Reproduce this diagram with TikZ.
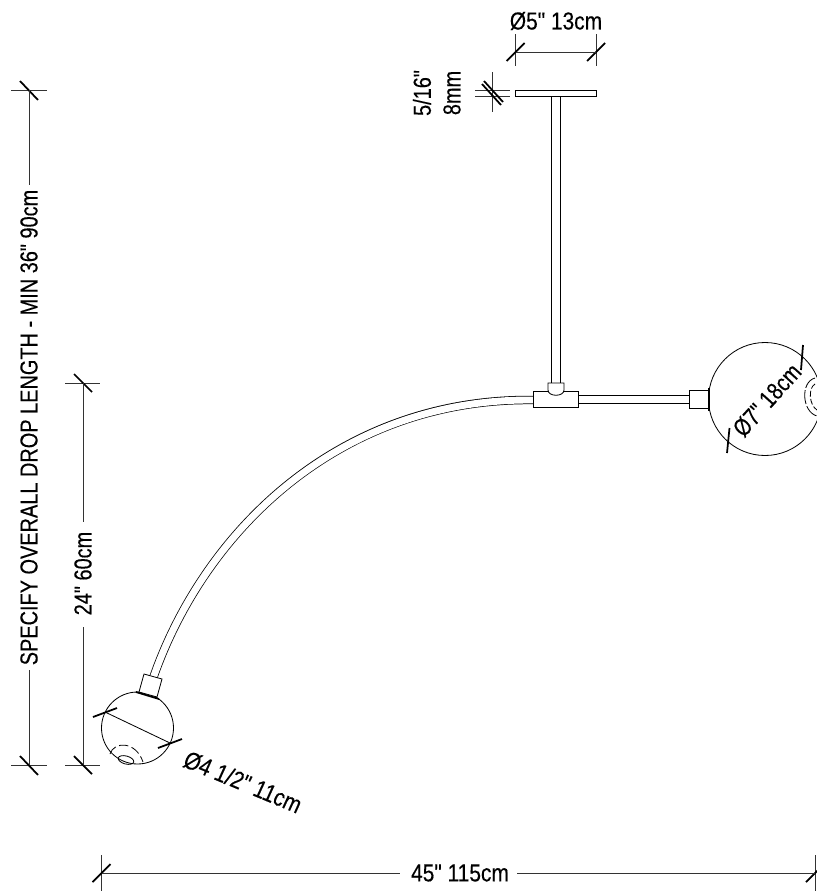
\documentclass[tikz,border=0pt]{standalone}
\usepackage{fontspec}
\newfontfamily\dimfont[FakeStretch=0.81,FakeBold=0.25]{Liberation Sans}
\begin{document}
\begin{tikzpicture}[x=.03cm, y=-.03cm,
    dimline/.style = {black!80, line width = .6pt},
    slash/.style = {black, line width = 1.5pt},
    part/.style = {black, line width = .7pt},
    label/.style = {inner sep = 0pt, font = \dimfont\fontsize{21}{22}\selectfont},
    shortlabel/.style = {label, xscale = 1.05}]

            \useasboundingbox (0,0) rectangle (817,891);

            % lamp body
            \draw [part, fill = white] (515.5,90) rectangle (596,96);
            \draw [part] (551.5,96) -- (551.5,384);
            \draw [part] (560,96) -- (560,384);
            \draw [black, line width = 7.2pt] (533,400) .. controls (340,398) and (205,530) .. (153.5,677);
            \draw [white, line width = 5.9pt] (534,400) .. controls (340,398) and (205,530) .. (153.5,677);
            \draw [part, fill = white] (578,395) rectangle (690,403);
            \draw [part, fill = white] (533.5,391) rectangle (578,407);
            \draw [part, fill = white] (548,383) -- (564,383) -- (564,390) .. controls (564,397) and (548,397) .. (548,390) -- cycle;
            \draw [part, fill = white] (689.5,390.5) rectangle (709,408);
            \draw [part] (765,399) circle (56.5);
            \draw [slash] (709,388) -- (709,411);
            \draw [part, dash pattern = on 12pt off 2pt] (815,378) .. controls (800,382) and (802,412) .. (817,416);
            \draw [part, dash pattern = on 5pt off 2pt] (815,384) .. controls (808,388) and (809,405) .. (817,410);

            % small globe
            \draw [part] (137.5,728) circle (36);
            \draw [part, fill = white] (144,674) -- (162,679) -- (157,697) -- (139,692) -- cycle;
            \draw [slash] (136,692) -- (159,699);
            \draw [part, rotate around = {-15:(126,760)}] (126,760) ellipse (8 and 4);
            \draw [part, dash pattern = on 8pt off 3pt] (110,754) .. controls (114,741) and (136,741) .. (143,762);

            % top dimensions
            \foreach \x in {515.5,596} {
              \draw [dimline] (\x,34) -- (\x,66);
              \draw [slash] (\x-9,61) -- (\x+9,43);
            }
            \draw [dimline] (515.5,52) -- (596,52);
            \node [shortlabel] (plate) at (556,21) {Ø5" 13cm};
            \foreach \y in {90,96} {
              \draw [dimline] (475,\y) -- (510,\y);
            }
            \draw [dimline] (492.5,72) -- (492.5,112);
            \draw [slash] (484,81) -- (503,102);
            \draw [slash] (482,84) -- (501,105);
            \node [label, rotate = 90] (thickin) at (422,93) {5/16"};
            \node [label, rotate = 90] (thickmm) at (452,93) {8mm};

            % overall drop
            \foreach \y in {90,765} {
              \draw [dimline] (11,\y) -- (47,\y);
              \draw [slash] (20,\y-9) -- (38,\y+10);
            }
            \node [label, rotate = 90] (drop) at (29,427.5) {SPECIFY OVERALL DROP LENGTH - MIN 36" 90cm};
            \draw [dimline] (29,90) -- (29,185);
            \draw [dimline] (29,670) -- (29,765);

            % globe drop
            \foreach \y in {383,765} {
              \draw [dimline] (65,\y) -- (100,\y);
              \draw [slash] (74,\y-9) -- (92,\y+9);
            }
            \node [label, rotate = 90] (globedrop) at (83,573.5) {24" 60cm};
            \draw [dimline] (83,383) -- (83,522);
            \draw [dimline] (83,627) -- (83,765);

            % span
            \foreach \x in {101.5,815} {
              \draw [dimline] (\x,855) -- (\x,891);
              \draw [slash] (\x-9,882) -- (\x+9,864);
            }
            \node [shortlabel] (span) at (460,873) {45" 115cm};
            \draw [dimline] (101.5,873) -- (400,873);
            \draw [dimline] (517,873) -- (815,873);

            % globe diameters
            \draw [slash] (727,453) -- (729.5,428);
            \draw [slash] (803,345) -- (801,370);
            \node [label, rotate = 48] (bigglobe) at (767,400) {Ø7" 18cm};
            \draw [slash] (93,717) -- (117,708);
            \draw [slash] (158,748) -- (182,739);
            \draw [part] (105,712) -- (170,743);
            \node [shortlabel, rotate = -23.5] (smallglobe) at (243,782) {Ø4 1/2" 11cm};
            \end{tikzpicture}
\end{document}
